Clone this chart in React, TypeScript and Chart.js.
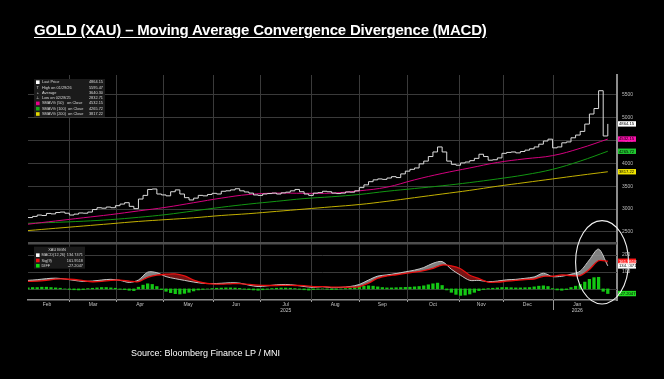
import React, { useEffect, useRef } from 'react';
import { Chart, registerables } from 'chart.js';

Chart.register(...registerables);

// ---- data (x unit = trading day index from start of Feb 2025) ----
const PRICE_STEP = 2;
const priceClose = [
  2815, 2840, 2870, 2860, 2905, 2895, 2925, 2935, 2910, 2870,
  2890, 2915, 2910, 2935, 2990, 3030, 3020, 3045, 3030, 3075,
  3110, 3140, 3060, 3010, 3220, 3300, 3430, 3440, 3330, 3310,
  3290, 3380, 3420, 3330, 3250, 3200, 3240, 3300, 3290, 3320,
  3345, 3330, 3390, 3400, 3420, 3445, 3400, 3375, 3350, 3310,
  3300, 3330, 3340, 3350, 3330, 3355, 3370, 3400, 3430, 3380,
  3330, 3300, 3350, 3360, 3390, 3380, 3350, 3340, 3350, 3375,
  3370, 3400, 3470, 3530, 3600, 3640, 3660, 3650, 3680, 3710,
  3690, 3770, 3830, 3870, 3900, 3990, 4050, 4150, 4250, 4360,
  4250, 4050, 3980, 3960, 4010, 4030, 4060, 4110, 4200, 4150,
  4070, 4080, 4120, 4220, 4240, 4250, 4230, 4260, 4290, 4320,
  4360, 4420, 4490, 4530, 4340, 4360, 4450, 4470, 4560, 4620,
  4700, 4860, 5080, 5200, 5590, 4600, 4864,
];

const SMA_STEP = 12;
const sma50 = [2670, 2740, 2810, 2880, 2960, 3040, 3140, 3240, 3320, 3350, 3345, 3350, 3400, 3480, 3640, 3780, 3900, 4020, 4100, 4170, 4330, 4532];
const sma100 = [2690, 2710, 2735, 2770, 2820, 2880, 2960, 3040, 3110, 3170, 3230, 3270, 3320, 3390, 3450, 3510, 3580, 3660, 3750, 3870, 4050, 4266];
const sma200 = [2530, 2580, 2630, 2680, 2730, 2770, 2810, 2860, 2900, 2950, 3000, 3050, 3100, 3170, 3250, 3330, 3410, 3500, 3580, 3660, 3740, 3817];

const MACD_STEP = 4;
const macdLine = [
  50, 54, 60, 63, 58, 50, 44, 46, 52, 56,
  50, 38, 52, 98, 95, 72, 60, 50, 40, 33,
  31, 33, 36, 34, 22, 14, 18, 24, 26, 22,
  14, 9, 13, 7, 9, 14, 26, 52, 75, 82,
  90, 100, 110, 125, 150, 160, 115, 80, 50, 50,
  42, 46, 53, 56, 62, 70, 92, 72, 74, 86,
  104, 170, 233, 135,
];
const signalLine = [
  44, 45, 50, 57, 58, 55, 48, 42, 44, 50,
  52, 46, 42, 68, 81, 86, 88, 76, 52, 36,
  29, 28, 30, 31, 26, 22, 20, 20, 21, 20,
  19, 13, 13, 11, 10, 10, 14, 34, 63, 76,
  83, 91, 98, 107, 120, 140, 135, 118, 80, 60,
  40, 40, 45, 50, 55, 58, 74, 74, 82, 78,
  78, 114, 165, 162,
];

const HIST_STEP = 2;
const diffHist = [
  6, 8, 8, 10, 10, 8, 6, 4, 0, -3,
  -5, -6, -4, 2, 4, 6, 8, 8, 6, 4,
  -2, -4, -8, -10, 10, 22, 30, 26, 14, -4,
  -14, -22, -28, -30, -26, -20, -12, -6, -3, 0,
  2, 4, 5, 6, 6, 5, 3, -2, -4, -6,
  -8, -5, -2, 2, 4, 5, 5, 4, 2, -2,
  -5, -7, -4, -2, 0, -2, -4, -3, -1, 2,
  4, 8, 12, 16, 18, 16, 12, 8, 6, 6,
  7, 8, 9, 10, 12, 14, 18, 24, 30, 34,
  20, -6, -20, -32, -38, -36, -30, -20, -10, -4,
  2, 4, 6, 8, 8, 7, 6, 6, 7, 8,
  12, 16, 18, 14, 2, -6, -8, -4, 8, 16,
  26, 40, 56, 66, 68, -14, -27,
];

const monthLabels = ['Feb', 'Mar', 'Apr', 'May', 'Jun', 'Jul', 'Aug', 'Sep', 'Oct', 'Nov', 'Dec', 'Jan'];
const monthMid = [8.3, 28.3, 48.7, 69.6, 90.4, 112, 133.5, 154, 176, 197, 217, 238.7];
const monthEdges = [17.8, 38.3, 58.7, 80.4, 100.9, 123, 143.9, 164.8, 187.4, 206.5, 228.3];
const yearLabels = ['', '', '', '', '', '2025', '', '', '', '', '', '2026'];
const yearEdge = 228.3;

const priceTicks = [2500, 3000, 3500, 4000, 4500, 5000, 5500];
const macdGrid = [0, 100, 200];
const macdTickLabels = [100, 200];
const macdPaneTop = 268;

const priceLegendIcons = ['#ffffff', 'T', '+', '\u22a5', '#e6008a', '#18a818', '#e3d800'];
const priceLegendNames = ['Last Price', 'High on 01/29/26', 'Average', 'Low on 02/28/25', 'SMAVG (50)   on Close', 'SMAVG (100)  on Close', 'SMAVG (200)  on Close'];
const priceLegendValues = ['4864.15', '5595.47', '3640.30', '2832.71', '4532.15', '4265.72', '3817.22'];

const macdLegendTitle = 'XAU BGN';
const macdLegendColors = ['#ffffff', '#ee1111', '#11dd11'];
const macdLegendNames = ['MACD(12,26)', 'Sig(9)', 'DIFF'];
const macdLegendValues = ['134.7471', '161.9518', '-27.2047'];

const priceTagValues = [4864.15, 4532.15, 4265.72, 3817.22];
const priceTagColors = ['#ffffff', '#ff10b0', '#20c830', '#f0e400'];
const macdTagValues = [161.9518, 134.7471, -27.2047];
const macdTagColors = ['#ff1a1a', '#ffffff', '#22dd22'];
const macdTagText = ['#ffffff', '#000000', '#000000'];

// annotation ellipse (in data units: x = day index, y = MACD units)
const ellipseCenter = [249.5, 156];
const ellipseRadius = [11.5, 244];

const FONT = '"Liberation Sans", Arial, sans-serif';

const series = (arr: number[], step: number) => arr.map((v, i) => ({ x: i * step, y: v }));

const overlay = {
  id: 'overlay',
  beforeDatasetsDraw(chart: any) {
    const { ctx, chartArea, scales } = chart;
    const { left, right, top, bottom } = chartArea;
    const x = scales.x;
    const y2 = scales.y2;
    ctx.save();
    ctx.strokeStyle = '#3a3a3a';
    ctx.lineWidth = 1;
    monthEdges.forEach((v) => {
      const px = Math.round(x.getPixelForValue(v)) + 0.5;
      ctx.beginPath();
      ctx.moveTo(px, top);
      ctx.lineTo(px, bottom);
      ctx.stroke();
    });
    macdGrid.forEach((v) => {
      const py = Math.round(y2.getPixelForValue(v)) + 0.5;
      ctx.beginPath();
      ctx.moveTo(left, py);
      ctx.lineTo(right, py);
      ctx.stroke();
    });
    ctx.strokeStyle = '#4e4e4e';
    ctx.lineWidth = 2.5;
    const sy = y2.getPixelForValue(macdPaneTop);
    ctx.beginPath();
    ctx.moveTo(left, sy);
    ctx.lineTo(right, sy);
    ctx.stroke();
    ctx.restore();
  },
  afterDraw(chart: any) {
    const { ctx, chartArea, scales } = chart;
    const { left, right, top, bottom } = chartArea;
    const x = scales.x;
    const y = scales.y;
    const y2 = scales.y2;
    ctx.save();

    ctx.strokeStyle = '#9a9a9a';
    ctx.lineWidth = 1;
    monthEdges.forEach((v) => {
      const px = Math.round(x.getPixelForValue(v)) + 0.5;
      ctx.beginPath();
      ctx.moveTo(px, bottom);
      ctx.lineTo(px, bottom + 2);
      ctx.stroke();
    });
    const ypx = Math.round(x.getPixelForValue(yearEdge)) + 0.5;
    ctx.beginPath();
    ctx.moveTo(ypx, bottom);
    ctx.lineTo(ypx, bottom + 10);
    ctx.stroke();

    ctx.fillStyle = '#bdbdbd';
    ctx.font = `5px ${FONT}`;
    ctx.textAlign = 'left';
    ctx.textBaseline = 'middle';
    macdTickLabels.forEach((v) => {
      ctx.fillText(String(v), right + 5, y2.getPixelForValue(v));
    });

    // price legend box
    const bx = left + 6;
    const by = top + 4;
    ctx.fillStyle = '#1b1b1b';
    ctx.fillRect(bx, by, 71, 38);
    ctx.font = `3.9px ${FONT}`;
    priceLegendNames.forEach((name, i) => {
      const ry = by + 3.2 + i * 5.3;
      const icon = priceLegendIcons[i];
      if (icon.startsWith('#')) {
        ctx.fillStyle = icon;
        ctx.fillRect(bx + 2, ry - 1.8, 3.6, 3.6);
      } else {
        ctx.fillStyle = '#dddddd';
        ctx.textAlign = 'center';
        ctx.fillText(icon, bx + 3.8, ry);
      }
      ctx.fillStyle = '#d8d8d8';
      ctx.textAlign = 'left';
      ctx.fillText(name, bx + 8, ry);
      ctx.textAlign = 'right';
      ctx.fillText(priceLegendValues[i], bx + 69, ry);
    });

    // MACD legend box
    const mx = left + 6;
    const my = y2.getPixelForValue(macdPaneTop) + 3.5;
    ctx.fillStyle = '#1b1b1b';
    ctx.fillRect(mx, my, 51, 22);
    ctx.fillStyle = '#d8d8d8';
    ctx.textAlign = 'center';
    ctx.fillText(macdLegendTitle, mx + 23, my + 3.5);
    macdLegendNames.forEach((name, i) => {
      const ry = my + 8.5 + i * 5.3;
      ctx.fillStyle = macdLegendColors[i];
      ctx.fillRect(mx + 2, ry - 1.8, 3.6, 3.6);
      ctx.fillStyle = '#d8d8d8';
      ctx.textAlign = 'left';
      ctx.fillText(name, mx + 7.5, ry);
      ctx.textAlign = 'right';
      ctx.fillText(macdLegendValues[i], mx + 49, ry);
    });

    const tag = (py: number, bg: string, fg: string, text: string) => {
      ctx.fillStyle = bg;
      ctx.fillRect(right + 1, py - 2.7, 18, 5.4);
      ctx.fillStyle = fg;
      ctx.textAlign = 'left';
      ctx.font = `4.2px ${FONT}`;
      ctx.fillText(text, right + 2, py + 0.2);
    };
    priceTagValues.forEach((v, i) => {
      tag(y.getPixelForValue(v), priceTagColors[i], '#000000', v.toFixed(2));
    });
    macdTagValues.forEach((v, i) => {
      tag(y2.getPixelForValue(v), macdTagColors[i], macdTagText[i], v.toFixed(4));
    });

    const cx = x.getPixelForValue(ellipseCenter[0]);
    const cy = y2.getPixelForValue(ellipseCenter[1]);
    const rx = Math.abs(x.getPixelForValue(ellipseCenter[0] + ellipseRadius[0]) - cx);
    const ry = Math.abs(y2.getPixelForValue(ellipseCenter[1] + ellipseRadius[1]) - cy);
    ctx.strokeStyle = '#f2f2f2';
    ctx.lineWidth = 1.1;
    ctx.beginPath();
    ctx.ellipse(cx, cy, rx, ry, 0, 0, Math.PI * 2);
    ctx.stroke();
    ctx.restore();
  },
};

export default function App() {
  const ref = useRef<HTMLCanvasElement>(null);

  useEffect(() => {
    document.body.style.margin = '0';
    document.body.style.background = '#000';
    const canvas = ref.current;
    if (!canvas) return;
    const chart = new Chart(canvas, {
      type: 'line',
      data: {
        datasets: [
          {
            type: 'line',
            label: 'Last Price',
            data: series(priceClose, PRICE_STEP),
            borderColor: '#dcdcdc',
            borderWidth: 1,
            pointRadius: 0,
            stepped: true,
            yAxisID: 'y',
            order: 0,
          },
          {
            type: 'line',
            label: 'SMAVG (50)',
            data: series(sma50, SMA_STEP),
            borderColor: '#d4007e',
            borderWidth: 1,
            pointRadius: 0,
            tension: 0.4,
            yAxisID: 'y',
            order: 1,
          },
          {
            type: 'line',
            label: 'SMAVG (100)',
            data: series(sma100, SMA_STEP),
            borderColor: '#129612',
            borderWidth: 1,
            pointRadius: 0,
            tension: 0.4,
            yAxisID: 'y',
            order: 1,
          },
          {
            type: 'line',
            label: 'SMAVG (200)',
            data: series(sma200, SMA_STEP),
            borderColor: '#c2b000',
            borderWidth: 1,
            pointRadius: 0,
            tension: 0.4,
            yAxisID: 'y',
            order: 1,
          },
          {
            type: 'line',
            label: 'MACD',
            data: series(macdLine, MACD_STEP),
            borderColor: '#c8c8c8',
            borderWidth: 1,
            pointRadius: 0,
            tension: 0.3,
            yAxisID: 'y2',
            fill: { target: '+1', above: 'rgba(150,150,150,0.85)', below: 'rgba(130,20,20,0.9)' },
            order: 3,
          },
          {
            type: 'line',
            label: 'Signal',
            data: series(signalLine, MACD_STEP),
            borderColor: '#e81010',
            borderWidth: 1.3,
            pointRadius: 0,
            tension: 0.3,
            yAxisID: 'y2',
            order: 2,
          },
          {
            type: 'bar',
            label: 'DIFF',
            data: series(diffHist, HIST_STEP),
            backgroundColor: '#14c814',
            borderWidth: 0,
            barThickness: 2.6,
            yAxisID: 'y2',
            order: 5,
          } as any,
        ],
      },
      options: {
        responsive: false,
        animation: false,
        layout: { padding: { left: 28, top: 75, right: 0, bottom: 63 } },
        plugins: { legend: { display: false }, tooltip: { enabled: false } },
        scales: {
          x: {
            type: 'linear',
            min: 0,
            max: 256,
            offset: false,
            afterBuildTicks: (s: any) => {
              s.ticks = monthMid.map((v) => ({ value: v }));
            },
            afterFit: (s: any) => {
              s.height = 16;
            },
            grid: { display: false, drawTicks: false, offset: false },
            border: { display: true, color: '#8c8c8c', width: 1.5 },
            ticks: {
              autoSkip: false,
              maxRotation: 0,
              padding: 1.5,
              color: '#c4c4c4',
              font: { size: 5, family: FONT, lineHeight: 1.15 },
              callback: (_v: any, i: number) => (yearLabels[i] ? [monthLabels[i], yearLabels[i]] : monthLabels[i]),
            },
          },
          y: {
            type: 'linear',
            position: 'right',
            min: 1011,
            max: 5934,
            afterBuildTicks: (s: any) => {
              s.ticks = priceTicks.map((v) => ({ value: v }));
            },
            afterFit: (s: any) => {
              s.width = 47;
            },
            grid: { color: '#3a3a3a', lineWidth: 1, drawTicks: false },
            border: { display: true, color: '#8c8c8c', width: 2 },
            ticks: {
              padding: 5,
              color: '#bdbdbd',
              font: { size: 5, family: FONT },
              callback: (v: any) => String(v),
            },
          },
          y2: {
            type: 'linear',
            display: false,
            position: 'right',
            min: -65,
            max: 1253,
          },
        },
      },
      plugins: [overlay],
    } as any);
    return () => chart.destroy();
  }, []);

  return (
    <div style={{ position: 'fixed', left: 0, top: 0, width: 664, height: 379, background: '#000', overflow: 'hidden' }}>
      <canvas ref={ref} width={664} height={379} style={{ position: 'absolute', left: 0, top: 0, width: 664, height: 379 }} />
      <div
        style={{
          position: 'absolute',
          left: 34,
          top: 21,
          color: '#ffffff',
          fontFamily: FONT,
          fontWeight: 700,
          fontSize: 15,
          lineHeight: '18px',
          textDecoration: 'underline',
          textUnderlineOffset: 2,
          whiteSpace: 'nowrap',
          letterSpacing: -0.2,
        }}
      >
        GOLD (XAU) – Moving Average Convergence Divergence (MACD)
      </div>
      <div
        style={{
          position: 'absolute',
          left: 131,
          top: 347,
          color: '#ffffff',
          fontFamily: FONT,
          fontSize: 9,
          lineHeight: '12px',
          whiteSpace: 'nowrap',
        }}
      >
        Source: Bloomberg Finance LP / MNI
      </div>
    </div>
  );
}
